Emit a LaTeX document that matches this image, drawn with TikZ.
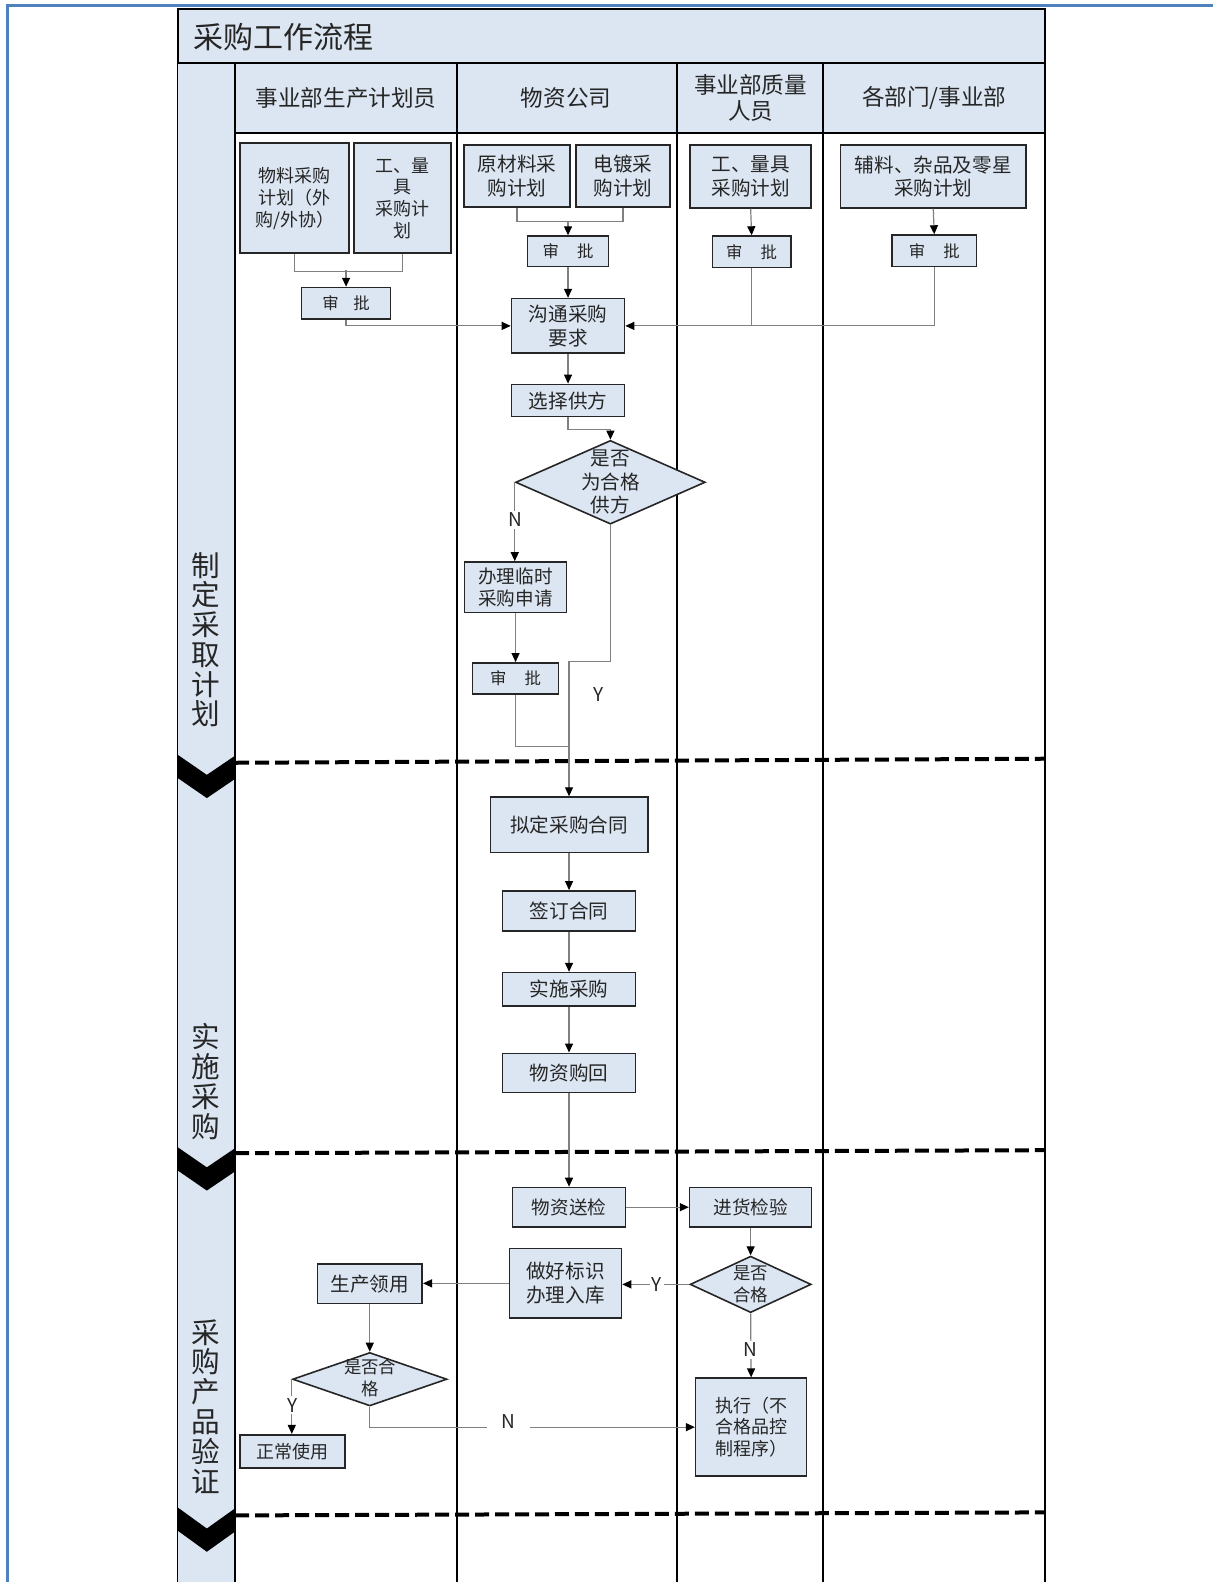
\documentclass[tikz,border=0pt]{standalone}
\usepackage{fontspec}
\setmainfont{Noto Sans CJK SC}
\usetikzlibrary{arrows.meta,shapes.geometric}
\definecolor{boxfill}{HTML}{DCE6F2}
\definecolor{frameblue}{HTML}{4F81BD}
\definecolor{txt}{HTML}{262626}
\newlength\upx \setlength\upx{0.5046pt}
\newcommand\bx[6]{\node[box,minimum width=#4\upx,minimum height=#5\upx,#6] (#1) at (#2,#3)}
\begin{document}
\begin{tikzpicture}[x={(0.5046pt,0)}, y={(0,-0.5046pt)},
  box/.style={draw=black!85, line width=0.8pt, fill=boxfill, text=txt, align=center, inner sep=0pt},
  fa/.style={font=\fontsize{9}{10.9}\selectfont},
  fb/.style={font=\fontsize{9.3}{11.2}\selectfont},
  fc/.style={font=\fontsize{9.8}{11.8}\selectfont},
  fsp/.style={font=\fontsize{8.2}{10}\selectfont},
  dia/.style={diamond, draw=black!85, line width=0.8pt, fill=boxfill, inner sep=0pt},
  dtxt/.style={text=txt, align=center, inner sep=0pt},
  conn/.style={draw=black!50, line width=0.6pt},
  arr/.style={conn, -{Triangle[length=4.5pt,width=4pt,black]}},
  lbl/.style={fill=white, inner sep=1pt, text=txt, font=\fontsize{9.5}{11}\selectfont},
  hdr/.style={text=txt, align=center, font=\fontsize{11.3}{12.6}\selectfont},
  phase/.style={text=txt, align=center, font=\fontsize{14.3}{14.9}\selectfont},
  dashline/.style={draw=black, line width=2pt, dash pattern=on 7pt off 3pt},
  chev/.style={fill=black}
]
\useasboundingbox (0,0) rectangle (1202,1568);
\fill[white] (0,0) rectangle (1202,1568);
% outer frame
\draw[frameblue, line width=1.5pt] (7,1575) -- (7,5) -- (1210,5);

% table
\draw[fill=boxfill, line width=0.8pt] (176,62) rectangle (233,1580);
\draw[fill=boxfill, line width=1pt] (176,9) rectangle (1036,62);
\draw[fill=boxfill, line width=1pt] (233,62) rectangle (1036,132);
\foreach \xx in {453,671,816,1036} \draw[line width=0.8pt] (\xx,62) -- (\xx,1580);
\draw[line width=1.3pt] (233,62) -- (233,132);
\draw[line width=1.2pt] (233,132) -- (1036,132);

\node[anchor=west, text=txt, font=\fontsize{15}{18}\selectfont] (title) at (185,37) {采购工作流程};
\node[hdr] (h1) at (343,97) {事业部生产计划员};
\node[hdr] (h2) at (561,97) {物资公司};
\node[hdr] (h3) at (744,97) {事业部质量\\人员};
\node[hdr] (h4) at (926,97) {各部门/事业部};

% phase labels
\node[phase] (ph1) at (204,634) {制\\定\\采\\取\\计\\划};
\node[phase] (ph2) at (204,1072) {实\\施\\采\\购};
\node[phase] (ph3) at (204,1394) {采\\购\\产\\品\\验\\证};

% dashed separators and chevrons
\draw[dashline] (233,756) -- (1036,752);
\draw[dashline] (233,1143) -- (1036,1140);
\draw[dashline] (233,1502) -- (1036,1499);
\fill[chev] (176,748) -- (205,768) -- (233,749) -- (233,772) -- (205,791) -- (176,771) -- cycle;
\fill[chev] (176,1137) -- (205,1157) -- (233,1138) -- (233,1161) -- (205,1180) -- (176,1160) -- cycle;
\fill[chev] (176,1494) -- (205,1515) -- (233,1495) -- (233,1518) -- (205,1538) -- (176,1517) -- cycle;

% lane 1 top
\bx{b1}{292}{196.5}{108}{109}{fa}{物料采购\\计划（外\\购/外协）};
\bx{b2}{399}{196.5}{96}{109}{fa}{工、量\\具\\采购计\\划};
\bx{a1}{343}{300.5}{88}{31}{fsp}{审\hspace{0.9em}批};
% lane 2 top
\bx{r1}{512.5}{174.5}{105}{61}{fc}{原材料采\\购计划};
\bx{r2}{617.5}{174.5}{93}{61}{fc}{电镀采\\购计划};
\bx{a2}{563}{249}{80}{30}{fsp}{审\hspace{1.1em}批};
\bx{c1}{563}{323}{112}{54}{fc}{沟通采购\\要求};
\bx{s1}{563}{397}{112}{32}{fc}{选择供方};
\node[dia, minimum width=188\upx, minimum height=83\upx] (d1) at (605,478) {};
\node[dtxt, fc] (d1t) at (605,478) {是否\\为合格\\供方};
\bx{t1}{511}{582}{101}{50}{fb}{办理临时\\采购申请};
\bx{a3}{511}{672.5}{85}{31}{fsp}{审\hspace{1.1em}批};
% lane 3 top
\bx{q1}{744}{175}{120}{62}{fc}{工、量具\\采购计划};
\bx{a4}{745}{249.5}{78}{31}{fsp}{审\hspace{1.1em}批};
% lane 4 top
\bx{e1}{925}{175}{184}{62}{fc}{辅料、杂品及零星\\采购计划};
\bx{a5}{926}{248.5}{84}{31}{fsp}{审\hspace{1.1em}批};

% phase 2
\bx{p1}{564}{817.5}{156}{55}{fc}{拟定采购合同};
\bx{p2}{564}{903}{132}{40}{fc}{签订合同};
\bx{p3}{564}{980.5}{132}{33}{fc}{实施采购};
\bx{p4}{564}{1063.5}{132}{39}{fc}{物资购回};

% phase 3
\bx{v1}{564}{1196.5}{112}{39}{fb}{物资送检};
\bx{v2}{744}{1196.5}{121}{39}{fb}{进货检验};
\node[dia, minimum width=120\upx, minimum height=56\upx] (d2) at (744,1273) {};
\node[dtxt, font=\fontsize{8.7}{11.1}\selectfont] (d2t) at (744,1273) {是否\\合格};
\bx{w1}{560.5}{1272}{111}{69}{fc}{做好标识\\办理入库};
\bx{g1}{366.5}{1272.5}{104}{39}{fc}{生产领用};
\node[dia, minimum width=153\upx, minimum height=53\upx] (d3) at (366.5,1367) {};
\node[dtxt, font=\fontsize{8.7}{11.1}\selectfont] (d3t) at (367,1366) {是否合\\格};
\bx{ok1}{290}{1438.5}{104}{33}{fa}{正常使用};
\bx{x1}{744.5}{1414.5}{110}{97}{fa}{执行（不\\合格品控\\制程序）};

% connectors lane 1
\draw[conn] (b1.south) -- ++(0,17) -| (b2.south);
\coordinate (j1) at (343,268);
\draw[arr] (j1) -- (a1.north);
\draw[arr] (a1.south) |- (c1.west);
% lane 2
\draw[conn] (r1.south) -- ++(0,14) -| (r2.south);
\coordinate (j2) at (563,219);
\draw[arr] (j2) -- (a2.north);
\draw[arr] (a2.south) -- (c1.north);
\draw[arr] (c1.south) -- (s1.north);
\draw[arr] (s1.south) -- ++(0,12) -| (d1.north);
\draw[arr] (d1.west) -- (d1.west |- t1.north);
\node[lbl] (nN1) at (511,515) {N};
\draw[arr] (t1.south) -- (a3.north);
\coordinate (yb) at (605,656);
\draw[arr] (d1.south) -- (yb) -| (p1.north);
\node[lbl] (nY1) at (593,688) {Y};
\coordinate (j3) at (564,740);
\draw[conn] (a3.south) |- (j3);
% lane 3/4 top
\draw[arr] (q1.south) -- (a4.north);
\draw[arr] (a4.south) |- (c1.east);
\draw[arr] (e1.south) -- (a5.north);
\coordinate (j4) at (745,323);
\draw[conn] (a5.south) |- (j4);
% phase 2
\draw[arr] (p1.south) -- (p2.north);
\draw[arr] (p2.south) -- (p3.north);
\draw[arr] (p3.south) -- (p4.north);
\draw[arr] (p4.south) -- (v1.north);
% phase 3
\draw[arr] (v1.east) -- (v2.west);
\draw[arr] (v2.south) -- (d2.north);
\draw[arr] (d2.west) -- (d2.west -| w1.east);
\node[lbl] (nY2) at (651,1273) {Y};
\draw[arr] (w1.west) -- (w1.west -| g1.east);
\draw[arr] (g1.south) -- (d3.north);
\draw[arr] (d3.west) -- (d3.west |- ok1.north);
\node[lbl] (nY3) at (290,1393) {Y};
\draw[arr] (d3.south) |- (x1.west);
\node[lbl, minimum width=42\upx, minimum height=26\upx] (nN3) at (504,1409) {N};
\draw[arr] (d2.south) -- (x1.north);
\node[lbl] (nN2) at (744,1338) {N};
\end{tikzpicture}
\end{document}
